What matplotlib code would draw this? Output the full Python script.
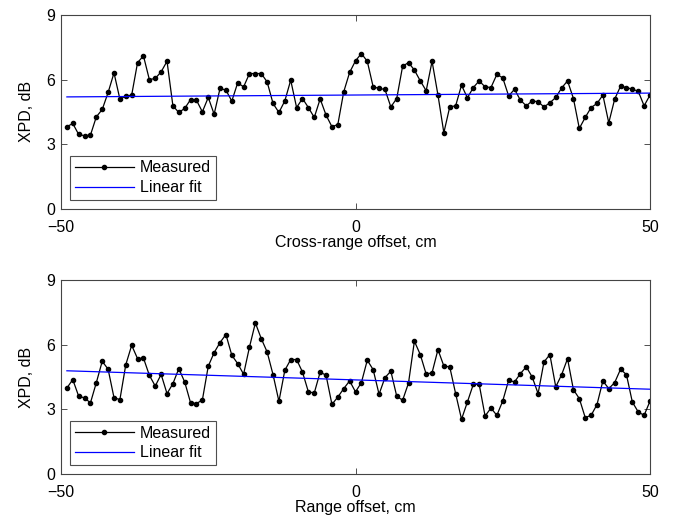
import numpy as np
import matplotlib
matplotlib.use("Agg")
import matplotlib.pyplot as plt

plt.rcParams['font.family'] = ['Liberation Sans', 'DejaVu Sans']
FS = 11.5
plt.rcParams['font.size'] = FS

# Offsets (cm)
offset_cm = list(range(-49, 51))

# Top panel: cross-range offset, measured XPD (dB)
xpd_cross = [
    3.81, 3.96, 3.45, 3.39, 3.42, 4.27, 4.61, 5.40, 6.31, 5.09,
    5.23, 5.28, 6.79, 7.10, 6.00, 6.05, 6.36, 6.85, 4.78, 4.47,
    4.66, 5.07, 5.04, 4.50, 5.17, 4.39, 5.59, 5.51, 5.00, 5.85,
    5.66, 6.28, 6.28, 6.28, 5.89, 4.89, 4.47, 5.01, 5.97, 4.70,
    5.12, 4.70, 4.24, 5.10, 4.35, 3.81, 3.91, 5.43, 6.33, 6.87,
    7.21, 6.85, 5.66, 5.59, 5.54, 4.73, 5.12, 6.62, 6.79, 6.44,
    5.94, 5.48, 6.85, 5.28, 3.53, 4.73, 4.78, 5.74, 5.15, 5.63,
    5.94, 5.66, 5.63, 6.24, 6.08, 5.24, 5.55, 5.04, 4.78, 5.01,
    4.97, 4.73, 4.92, 5.17, 5.61, 5.94, 5.12, 3.73, 4.24, 4.70,
    4.89, 5.28, 3.99, 5.09, 5.69, 5.63, 5.55, 5.46, 4.78, 5.28,
]

# Bottom panel: range offset, measured XPD (dB)
xpd_range = [
    3.99, 4.38, 3.61, 3.53, 3.30, 4.24, 5.23, 4.86, 3.54, 3.45,
    5.07, 5.97, 5.35, 5.38, 4.58, 4.08, 4.62, 3.73, 4.19, 4.89,
    4.27, 3.30, 3.27, 3.43, 5.00, 5.63, 6.10, 6.47, 5.51, 5.12,
    4.63, 5.89, 7.01, 6.28, 5.66, 4.61, 3.37, 4.81, 5.31, 5.31,
    4.73, 3.81, 3.76, 4.73, 4.58, 3.23, 3.57, 3.96, 4.32, 3.81,
    4.24, 5.28, 4.84, 3.70, 4.47, 4.77, 3.61, 3.42, 4.22, 6.16,
    5.54, 4.63, 4.70, 5.77, 5.01, 4.97, 3.73, 2.54, 3.34, 4.16,
    4.16, 2.69, 3.06, 2.72, 3.39, 4.35, 4.27, 4.66, 4.97, 4.50,
    3.73, 5.20, 5.54, 4.04, 4.61, 5.35, 3.91, 3.50, 2.62, 2.72,
    3.22, 4.32, 3.96, 4.24, 4.86, 4.61, 3.34, 2.88, 2.72, 3.38,
]

x_ticks = [-50, 0, 50]
y_ticks = [0, 3, 6, 9]
x_labels = ["Cross-range offset, cm", "Range offset, cm"]
y_label = "XPD, dB"
legend_labels = ["Measured", "Linear fit"]

fig = plt.figure(figsize=(6.73, 5.24), dpi=100)
W, H = 673, 524
boxes = [(61, 15, 650, 208.7), (61, 280, 650, 474)]
series = [xpd_cross, xpd_range]

for (l, t, r, b), ys, xl in zip(boxes, series, x_labels):
    ax = fig.add_axes([l / W, 1 - b / H, (r - l) / W, (b - t) / H])
    x = np.array(offset_cm, dtype=float)
    y = np.array(ys, dtype=float)
    ax.plot(x, y, color='black', lw=0.9, marker='o', ms=3.0,
            label=legend_labels[0])
    coef = np.polyfit(x, y, 1)
    ax.plot(x, np.polyval(coef, x), color='#0000ff', lw=0.9,
            label=legend_labels[1])
    ax.set_xlim(-50, 50)
    ax.set_ylim(0, 9)
    ax.set_xticks(x_ticks)
    ax.set_yticks(y_ticks)
    ax.tick_params(direction='in', top=True, right=True, length=4,
                   width=0.6, labelsize=FS, colors='#333333',
                   labelcolor='black')
    ax.tick_params(axis='x', pad=8)
    ax.tick_params(axis='y', pad=4)
    for s in ax.spines.values():
        s.set_color('#444444')
        s.set_linewidth(0.8)
    ax.set_xlabel(xl, fontsize=FS, labelpad=0)
    ax.set_ylabel(y_label, fontsize=FS, labelpad=9)
    leg = ax.legend(loc='lower left', bbox_to_anchor=(0.0, 0.0),
                    borderaxespad=0.55, fancybox=False, frameon=True,
                    handlelength=3.7, handletextpad=0.4, borderpad=0.3,
                    labelspacing=0.3, fontsize=FS)
    leg.get_frame().set_edgecolor('#222222')
    leg.get_frame().set_linewidth(0.8)

fig.savefig('out.png', dpi=100)
